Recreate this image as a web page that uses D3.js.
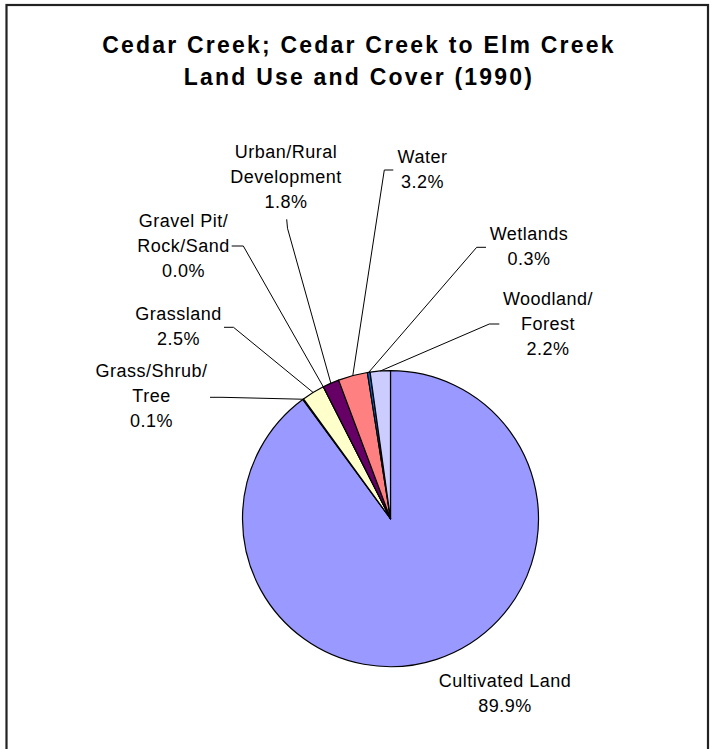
<!DOCTYPE html>
<html>
<head>
<meta charset="utf-8">
<script src="https://cdn.jsdelivr.net/npm/d3@7"></script>
<style>
  html, body { margin: 0; padding: 0; background: #fff; }
  svg { display: block; }
  text { font-family: "Liberation Sans", Arial, sans-serif; fill: #000; }
</style>
</head>
<body>
<svg id="chart" width="715" height="749"></svg>
<script>
// ---- data ----
const categories = ["Cultivated Land", "Grass/Shrub/Tree", "Grassland", "Gravel Pit/Rock/Sand",
                    "Urban/Rural Development", "Water", "Wetlands", "Woodland/Forest"];
const values = [89.9, 0.1, 2.5, 0.0, 1.8, 3.2, 0.3, 2.2];
const labelLines = [
  ["Cultivated Land"],
  ["Grass/Shrub/", "Tree"],
  ["Grassland"],
  ["Gravel Pit/", "Rock/Sand"],
  ["Urban/Rural", "Development"],
  ["Water"],
  ["Wetlands"],
  ["Woodland/", "Forest"]
];
const titleLines = ["Cedar Creek; Cedar Creek to Elm Creek", "Land Use and Cover (1990)"];
const colors = ["#9999FF", "#993366", "#FFFFCC", "#CCFFFF", "#660066", "#FF8080", "#0066CC", "#CCCCFF"];

// ---- layout (label placement, not data) ----
// cx: text centre, y: first baseline, leader: [start, elbow] points (end is slice edge)
const labelLayout = [
  { cx: 505,   y: 687,   leader: null },
  { cx: 151.5, y: 377,   leader: [[210, 397.3], [222, 397.3]] },
  { cx: 178.5, y: 320,   leader: [[224, 327.3], [233.5, 327.3]] },
  { cx: 183.5, y: 226.7, leader: [[231.7, 246], [243.3, 246]] },
  { cx: 286,   y: 158.3, leader: [[286.7, 219.3], [287.5, 228.3]] },
  { cx: 422.5, y: 163.3, leader: [[393.3, 170], [384.3, 170]] },
  { cx: 529,   y: 240,   leader: [[486, 247.3], [476.7, 247.3]] },
  { cx: 548,   y: 305,   leader: [[499.3, 324], [489.3, 324]] }
];

const svg = d3.select("#chart");

// chart border
svg.append("rect")
  .attr("x", 6.5).attr("y", 5)
  .attr("width", 701.5).attr("height", 760)
  .attr("fill", "#fff")
  .attr("stroke", "#222").attr("stroke-width", 2.2);

// title
const title = svg.append("text")
  .attr("text-anchor", "middle")
  .style("font-size", "23px")
  .style("font-weight", "bold")
  .style("letter-spacing", "2.2px");
titleLines.forEach((t, i) => {
  title.append("tspan").attr("x", 359).attr("y", 52.5 + i * 32.5).text(t);
});

// pie
const cx = 390.5, cy = 518.7, r = 148;
const pie = d3.pie().sort(null).value(d => d).startAngle(0).endAngle(2 * Math.PI);
const arcs = pie(values);
const arc = d3.arc().innerRadius(0).outerRadius(r);

const g = svg.append("g").attr("transform", `translate(${cx},${cy})`);
g.selectAll("path.slice")
  .data(arcs)
  .join("path")
  .attr("class", "slice")
  .attr("d", arc)
  .attr("fill", (d, i) => colors[i])
  .attr("stroke", "#000")
  .attr("stroke-width", 1.2)
  .attr("stroke-linejoin", "round");

// leader lines
const edgePoint = d => {
  const a = (d.startAngle + d.endAngle) / 2;
  return [cx + r * Math.sin(a), cy - r * Math.cos(a)];
};
const line = d3.line();
arcs.forEach((d, i) => {
  const L = labelLayout[i];
  if (!L.leader) return;
  const pts = [...L.leader, edgePoint(d)];
  svg.append("path")
    .attr("d", line(pts))
    .attr("fill", "none")
    .attr("stroke", "#000")
    .attr("stroke-width", 1);
});

// labels
const fmt = d3.format(".1f");
arcs.forEach((d, i) => {
  const L = labelLayout[i];
  const lines = [...labelLines[i], fmt(values[i]) + "%"];
  const t = svg.append("text")
    .attr("text-anchor", "middle")
    .style("font-size", "18px")
    .style("letter-spacing", "0.5px");
  lines.forEach((s, j) => {
    t.append("tspan").attr("x", L.cx).attr("y", L.y + j * 25).text(s);
  });
});
</script>
</body>
</html>
